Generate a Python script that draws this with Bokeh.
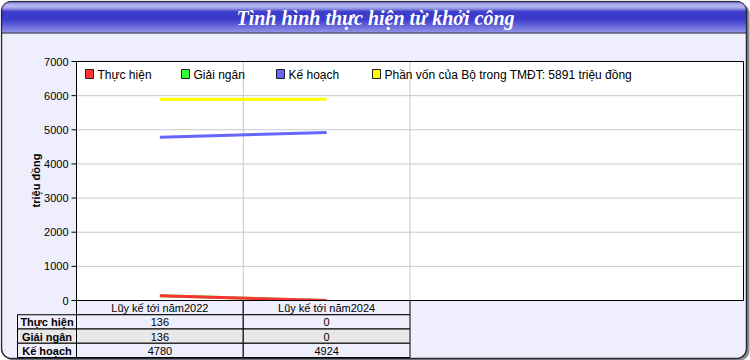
from bokeh.plotting import figure
from bokeh.models import Range1d
from bokeh.core.properties import value
from bokeh.embed import file_html
from bokeh.resources import INLINE
import math

# ---- data ----
periods = ["Lũy kế tới năm2022", "Lũy kế tới năm2024"]
series_names = ["Thực hiện", "Giải ngân", "Kế hoạch"]
thuc_hien = [136, 0]
giai_ngan = [136, 0]
ke_hoach = [4780, 4924]
phan_von_bo = 5891
y_ticks = [0, 1000, 2000, 3000, 4000, 5000, 6000, 7000]

title_text = "Tình hình thực hiện từ khởi công"
y_label = "triệu đồng"
share_label = f"Phần vốn của Bộ trong TMĐT: {phan_von_bo} triệu đồng"

# ---- layout constants (canvas pixels, y measured from the top) ----
W, H = 750, 360
FRAME_L, FRAME_R, FRAME_T, FRAME_B = 76, 743, 61, 300
N_BANDS = 4                      # category bands across the plot width
ROW_H = 14.25
LABEL_COL_L = 17
LAVENDER = "#EEEEFC"
ROW_GRAY = "#E8E8E8"
GRID = "#C8C8C8"
FONT = value("Liberation Sans")

n = len(periods)
xs = list(range(n))
y_lo, y_hi = y_ticks[0], y_ticks[-1]

# data ranges stretched so the value area sits inside the panel
sx = (FRAME_R - FRAME_L) / N_BANDS
sy = (FRAME_B - FRAME_T) / (y_hi - y_lo)
x_start, x_end = -0.5, N_BANDS - 0.5
p = figure(
    width=W, height=H, output_backend="svg", toolbar_location=None,
    x_range=Range1d(x_start - FRAME_L / sx, x_end + (W - FRAME_R) / sx),
    y_range=Range1d(y_lo - (H - FRAME_B) / sy, y_hi + FRAME_T / sy),
    min_border=0, outline_line_color=None,
    background_fill_color="white", border_fill_color="white",
)
p.axis.visible = False
p.grid.visible = False
# pixel ranges for the decoration around the chart
p.extra_x_ranges = {"px": Range1d(0, W)}
p.extra_y_ranges = {"px": Range1d(H, 0)}
PX = dict(x_range_name="px", y_range_name="px")

# ---- rounded panel with a drop shadow ----
def rounded_rect(l, t, r, b, rad, steps=10):
    px, py = [], []
    corners = [(r - rad, t + rad, -90, 0), (r - rad, b - rad, 0, 90),
               (l + rad, b - rad, 90, 180), (l + rad, t + rad, 180, 270)]
    for cx, cy, a0, a1 in corners:
        for k in range(steps + 1):
            a = math.radians(a0 + (a1 - a0) * k / steps)
            px.append(cx + rad * math.cos(a))
            py.append(cy + rad * math.sin(a))
    return px, py

shx, shy = rounded_rect(3, 3, 749, 360, 10)
p.patch(shx, shy, fill_color="#8C8C8C", line_color=None, **PX)
bx, by = rounded_rect(1, 1, 746, 358, 10)
p.patch(bx, by, fill_color=LAVENDER, line_color="#2A2A3A", line_width=1.5, **PX)

# ---- glossy title bar from 1px stripes ----
def mix(c1, c2, t):
    a = [int(c1[i:i + 2], 16) for i in (1, 3, 5)]
    b = [int(c2[i:i + 2], 16) for i in (1, 3, 5)]
    return "#%02X%02X%02X" % tuple(round(a[k] + (b[k] - a[k]) * t) for k in range(3))

stripe_colors = ["#30305A", "#7474D8", "#8A8AE4", "#9A9AEE", "#A2A2F2", "#9C9CEE",
                 "#8C8CE6", "#7070DA", "#4848CC", "#1C1CC0"]
stripe_colors += ["#0000BC"] * 8
stripe_colors += [mix("#0404C0", "#7070DE", k / 12) for k in range(13)]
stripe_colors += ["#141438"]
radius = 9
s_left, s_right, s_top, s_bot = [], [], [], []
for k in range(len(stripe_colors)):
    d = radius - k - 0.5
    inset = radius - math.sqrt(max(radius ** 2 - d ** 2, 0)) if k < radius else 0
    s_left.append(1.5 + inset)
    s_right.append(745.5 - inset)
    s_top.append(1 + k)
    s_bot.append(2 + k)
p.quad(left=s_left, right=s_right, top=s_top, bottom=s_bot,
       fill_color=stripe_colors, line_color=None, **PX)
p.text(x=[W / 2], y=[17], text=[title_text], text_align="center", text_baseline="middle",
       text_color="white", text_font=value("Liberation Serif"),
       text_font_style="bold italic", text_font_size="20px", **PX)

# ---- plot area, grid ----
p.quad(left=[x_start], right=[x_end], bottom=[y_lo], top=[y_hi],
       fill_color="white", line_color=None)
p.segment(x0=[x_start] * len(y_ticks), x1=[x_end] * len(y_ticks), y0=y_ticks, y1=y_ticks,
          line_color=GRID, line_width=1)
vx = [i + 0.5 for i in xs]
p.segment(x0=vx, x1=vx, y0=[y_lo] * n, y1=[y_hi] * n, line_color=GRID, line_width=1)

# ---- value axis ----
tick_len = 5 / sx
p.segment(x0=[x_start - tick_len] * len(y_ticks), x1=[x_start] * len(y_ticks),
          y0=y_ticks, y1=y_ticks, line_color="black", line_width=1)
p.text(x=[x_start] * len(y_ticks), y=y_ticks, text=[str(t) for t in y_ticks],
       x_offset=-8, text_align="right", text_baseline="middle",
       text_font=FONT, text_font_size="11px", text_color="black")
p.text(x=[35], y=[180], text=[y_label], angle=math.pi / 2, text_align="center",
       text_baseline="middle", text_font=FONT, text_font_size="11px",
       text_font_style="bold", text_color="black", **PX)

# ---- series lines ----
p.line(xs, [phan_von_bo] * n, line_color="#FFFF00", line_width=3)
p.line(xs, ke_hoach, line_color="#6666FF", line_width=3)
p.line(xs, giai_ngan, line_color="#33FF33", line_width=3)
p.line(xs, thuc_hien, line_color="#FF3333", line_width=3)

# frame border on top of the lines
p.quad(left=[x_start], right=[x_end], bottom=[y_lo], top=[y_hi],
       fill_color=None, line_color="black", line_width=1)

# ---- legend row ----
legend_labels = series_names + [share_label]
swatch_colors = ["#FF3333", "#33FF33", "#6666FF", "#FFFF00"]
swatch_x = [85, 181, 276, 372]
p.quad(left=swatch_x, right=[x + 8 for x in swatch_x], top=[69] * 4, bottom=[78] * 4,
       fill_color=swatch_colors, line_color="#202020", line_width=1, **PX)
p.text(x=[x + 12 for x in swatch_x], y=[74] * 4, text=legend_labels,
       text_align="left", text_baseline="middle", text_font=FONT,
       text_font_size="12px", text_color="black", **PX)

# ---- data table under the plot ----
YPX = dict(y_range_name="px")
rows_top = [FRAME_B + ROW_H * r for r in range(len(series_names) + 1)]

# header
p.quad(left=[i - 0.5 for i in xs], right=[i + 0.5 for i in xs],
       top=[rows_top[0]] * n, bottom=[rows_top[0] + ROW_H] * n,
       fill_color=LAVENDER, line_color="black", line_width=1, **YPX)
p.text(x=xs, y=[rows_top[0] + ROW_H / 2 + 0.5] * n, text=periods, text_align="center",
       text_baseline="middle", text_font=FONT, text_font_size="11px",
       text_color="black", **YPX)

table_rows = [thuc_hien, giai_ngan, ke_hoach]
row_fills = [LAVENDER, ROW_GRAY, LAVENDER]
for r_i, (name, vals, fill) in enumerate(zip(series_names, table_rows, row_fills)):
    top = rows_top[r_i + 1]
    bottom = top + ROW_H
    mid = (top + bottom) / 2 + 0.5
    p.quad(left=[LABEL_COL_L], right=[FRAME_L], top=[top], bottom=[bottom],
           fill_color=fill, line_color="black", line_width=1, **PX)
    p.text(x=[(LABEL_COL_L + FRAME_L) / 2], y=[mid], text=[name], text_align="center",
           text_baseline="middle", text_font=FONT, text_font_size="11px",
           text_font_style="bold", text_color="black", **PX)
    p.quad(left=[i - 0.5 for i in xs], right=[i + 0.5 for i in xs],
           top=[top] * n, bottom=[bottom] * n,
           fill_color=fill, line_color="black", line_width=1, **YPX)
    p.text(x=xs, y=[mid] * n, text=[str(v) for v in vals], text_align="center",
           text_baseline="middle", text_font=FONT, text_font_size="11px",
           text_color="black", **YPX)

open("out.html", "w").write(file_html(p, INLINE))
